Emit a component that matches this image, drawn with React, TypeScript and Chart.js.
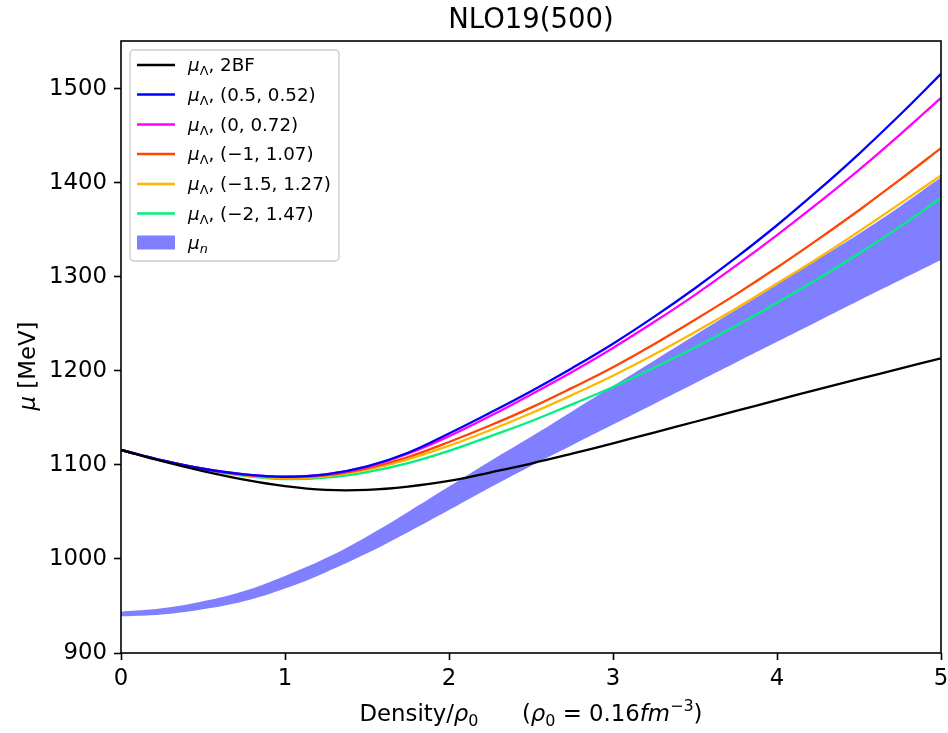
import React, { useEffect, useRef } from 'react';
import { Chart, registerables } from 'chart.js';

Chart.register(...registerables);

// ---- data ----
const density = [0, 0.25, 0.5, 0.75, 1, 1.25, 1.5, 1.75, 2, 2.25, 2.5, 2.75, 3, 3.25, 3.5, 3.75, 4, 4.25, 4.5, 4.75, 5];

const mu2BF = [1116, 1104, 1093.5, 1084.5, 1077.5, 1073.5, 1073.5, 1077, 1083, 1092, 1101.5, 1112, 1123, 1134.5, 1146, 1157.5, 1169, 1180.5, 1191.5, 1202.5, 1213.5];
const muA = [1116, 1105, 1096, 1090, 1087.5, 1090, 1098.5, 1113, 1133.5, 1155.5, 1178.5, 1203, 1229, 1257.5, 1288, 1320.5, 1355, 1392, 1431, 1472.5, 1516];
const muB = [1116, 1105, 1096, 1090, 1087.5, 1090, 1098, 1112, 1130.5, 1152, 1175, 1199, 1224.5, 1252, 1281, 1312, 1344.5, 1378.5, 1414, 1451.5, 1490.5];
const muC = [1116, 1105, 1096, 1089.5, 1087, 1089, 1096.5, 1108.5, 1124.5, 1142, 1161, 1182, 1204, 1228.5, 1254.5, 1281.5, 1310, 1340, 1371, 1403.5, 1437];
const muD = [1116, 1105, 1096, 1089, 1086, 1088, 1095, 1106, 1120.5, 1137, 1155, 1174.5, 1195, 1217.5, 1241.5, 1266.5, 1293, 1320, 1348.5, 1378, 1408];
const muE = [1116, 1105, 1095.5, 1088.5, 1085, 1086.5, 1092.5, 1102, 1115, 1130.5, 1146.5, 1164.5, 1183, 1203.5, 1225, 1248, 1272.5, 1298, 1325, 1353.5, 1384];
const muNLow = [939, 941, 946.5, 955, 968.5, 986, 1006, 1028.5, 1052, 1076, 1099, 1121, 1143, 1165, 1187, 1209, 1231, 1253, 1275, 1296.5, 1318];
const muNHigh = [944, 947.5, 955, 966, 982, 1001, 1024, 1050, 1077, 1104, 1130, 1157, 1184, 1211, 1238, 1265, 1292, 1319, 1346, 1375, 1406];

const xTicks = [0, 1, 2, 3, 4, 5];
const yTicks = [900, 1000, 1100, 1200, 1300, 1400, 1500];

const lineSeries = [
  { sub: 'Λ', rest: ', 2BF', data: mu2BF, color: '#000000' },
  { sub: 'Λ', rest: ', (0.5, 0.52)', data: muA, color: '#0000ff' },
  { sub: 'Λ', rest: ', (0, 0.72)', data: muB, color: '#ff00ff' },
  { sub: 'Λ', rest: ', (−1, 1.07)', data: muC, color: '#ff4500' },
  { sub: 'Λ', rest: ', (−1.5, 1.27)', data: muD, color: '#ffb800' },
  { sub: 'Λ', rest: ', (−2, 1.47)', data: muE, color: '#00f080' },
];
const bandColor = 'rgba(0,0,255,0.5)';

const FONT = '"DejaVu Sans"';

type Seg = { t: string; it?: boolean; sub?: boolean; sup?: boolean };

function drawRich(ctx: CanvasRenderingContext2D, segs: Seg[], x: number, y: number, size: number, align: 'left' | 'center') {
  const fontOf = (s: Seg) => `${s.it ? 'italic ' : ''}${s.sub || s.sup ? size * 0.7 : size}px ${FONT}`;
  let total = 0;
  for (const s of segs) {
    ctx.font = fontOf(s);
    total += ctx.measureText(s.t).width;
  }
  let cx = align === 'center' ? x - total / 2 : x;
  ctx.textAlign = 'left';
  ctx.textBaseline = 'alphabetic';
  for (const s of segs) {
    ctx.font = fontOf(s);
    const dy = s.sub ? size * 0.22 : s.sup ? -size * 0.42 : 0;
    ctx.fillText(s.t, cx, y + dy);
    cx += ctx.measureText(s.t).width;
  }
}

const decorPlugin = {
  id: 'decor',
  afterDraw(chart: any) {
    const ctx: CanvasRenderingContext2D = chart.ctx;
    const a = chart.chartArea;
    ctx.save();
    // frame
    ctx.strokeStyle = '#000';
    ctx.lineWidth = 1.6;
    ctx.strokeRect(a.left, a.top, a.right - a.left, a.bottom - a.top);
    ctx.fillStyle = '#000';
    // title
    drawRich(ctx, [{ t: 'NLO19(500)' }], (a.left + a.right) / 2, 28, 27.5, 'center');
    // x label
    drawRich(
      ctx,
      [
        { t: 'Density/' },
        { t: 'ρ', it: true },
        { t: '0', sub: true },
        { t: '      (' },
        { t: 'ρ', it: true },
        { t: '0', sub: true },
        { t: ' = 0.16' },
        { t: 'fm', it: true },
        { t: '−3', sup: true },
        { t: ')' },
      ],
      (a.left + a.right) / 2,
      721,
      22.8,
      'center'
    );
    // y label
    ctx.save();
    ctx.translate(35, 366);
    ctx.rotate(-Math.PI / 2);
    drawRich(ctx, [{ t: 'μ', it: true }, { t: ' [MeV]' }], 0, 0, 22.8, 'center');
    ctx.restore();

    // legend
    const lx = 130, ly = 50, lw = 209, lh = 211;
    ctx.beginPath();
    ctx.roundRect(lx, ly, lw, lh, 4);
    ctx.fillStyle = 'rgba(255,255,255,0.8)';
    ctx.fill();
    ctx.strokeStyle = '#cccccc';
    ctx.lineWidth = 1.4;
    ctx.stroke();
    const rowY = [65, 94.5, 124.5, 154, 184, 213.5, 242.5];
    lineSeries.forEach((s, i) => {
      const y = rowY[i];
      ctx.strokeStyle = s.color;
      ctx.lineWidth = 2.3;
      ctx.beginPath();
      ctx.moveTo(137, y);
      ctx.lineTo(175, y);
      ctx.stroke();
      ctx.fillStyle = '#000';
      drawRich(ctx, [{ t: 'μ', it: true }, { t: s.sub, sub: true }, { t: s.rest }], 188, y + 6, 18.3, 'left');
    });
    const by = rowY[6];
    ctx.fillStyle = bandColor;
    ctx.fillRect(137, by - 7, 38, 14);
    ctx.fillStyle = '#000';
    drawRich(ctx, [{ t: 'μ', it: true }, { t: 'n', it: true, sub: true }], 188, by + 6, 18.3, 'left');
    ctx.restore();
  },
};

export default function App() {
  const ref = useRef<HTMLCanvasElement | null>(null);
  useEffect(() => {
    if (!ref.current) return;
    const pts = (arr: number[]) => density.map((x, i) => ({ x, y: arr[i] }));
    const datasets: any[] = lineSeries.map((s) => ({
      label: s.rest,
      data: pts(s.data),
      borderColor: s.color,
      borderWidth: 2.3,
      pointRadius: 0,
      fill: false,
      tension: 0.4,
    }));
    datasets.push({
      label: 'band-low',
      data: pts(muNLow),
      borderWidth: 0,
      borderColor: 'rgba(0,0,0,0)',
      pointRadius: 0,
      fill: false,
      tension: 0.4,
    });
    datasets.push({
      label: 'band-high',
      data: pts(muNHigh),
      borderWidth: 0,
      borderColor: 'rgba(0,0,0,0)',
      backgroundColor: bandColor,
      pointRadius: 0,
      fill: '-1',
      tension: 0.4,
    });
    const tickFont = { family: FONT, size: 22.8 };
    const chart = new Chart(ref.current, {
      type: 'line',
      data: { datasets },
      plugins: [decorPlugin],
      options: {
        responsive: false,
        animation: false,
        devicePixelRatio: 1,
        layout: { padding: { top: 41, right: 7, left: 0, bottom: 0 } },
        plugins: { legend: { display: false }, tooltip: { enabled: false }, title: { display: false } },
        scales: {
          x: {
            type: 'linear',
            min: 0,
            max: 5,
            afterFit: (s: any) => { s.height = 80; s.paddingLeft = 0; s.paddingRight = 0; },
            afterBuildTicks: (s: any) => { s.ticks = xTicks.map((v) => ({ value: v })); },
            ticks: { font: tickFont, color: '#000', padding: 5, maxRotation: 0, callback: (v: any) => String(v) },
            grid: { drawOnChartArea: false, tickLength: 7, tickWidth: 1.6, tickColor: '#000' },
            border: { display: false },
          },
          y: {
            type: 'linear',
            min: 900,
            max: 1551,
            afterFit: (s: any) => { s.width = 121; s.paddingTop = 0; s.paddingBottom = 0; },
            afterBuildTicks: (s: any) => { s.ticks = yTicks.map((v) => ({ value: v })); },
            ticks: { font: tickFont, color: '#000', padding: 7, callback: (v: any) => String(v) },
            grid: { drawOnChartArea: false, tickLength: 7, tickWidth: 1.6, tickColor: '#000' },
            border: { display: false },
          },
        },
      },
    });
    return () => chart.destroy();
  }, []);
  return (
    <div style={{ position: 'absolute', left: 0, top: 0, width: 948, height: 733, background: '#fff' }}>
      <canvas ref={ref} width={948} height={733} style={{ width: 948, height: 733 }} />
    </div>
  );
}
